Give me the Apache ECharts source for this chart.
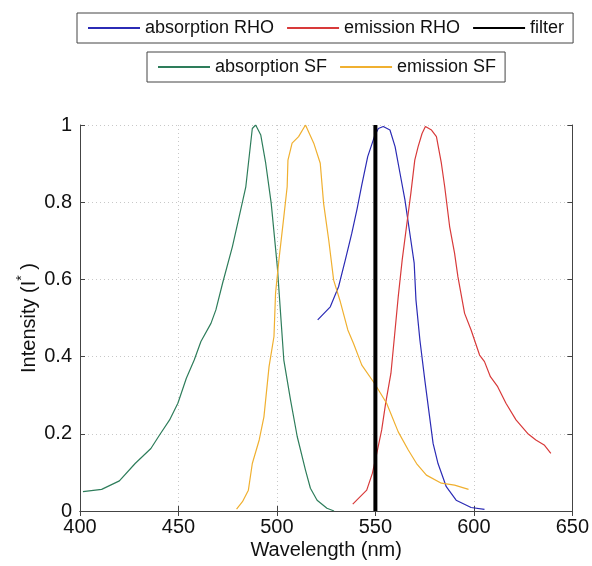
<!DOCTYPE html>
<html>
<head>
<meta charset="utf-8">
<script src="https://cdn.jsdelivr.net/npm/echarts@6/dist/echarts.min.js"></script>
<style>html,body{margin:0;padding:0;background:#fff}#c{width:592px;height:566px}</style>
</head>
<body>
<div id="c"></div>
<script>
var xTicks = [400, 450, 500, 550, 600, 650];
var yTicks = [0, 0.2, 0.4, 0.6, 0.8, 1];

var absorptionRHO = [[520.7,0.495],[527.1,0.529],[531.3,0.581],[534.7,0.650],[538,0.719],[540.6,0.780],[543.1,0.845],[546.1,0.918],[549.5,0.970],[551.5,0.991],[554,0.996],[557.4,0.987],[560,0.944],[562.5,0.875],[565,0.806],[567.5,0.719],[569.7,0.642],[570.6,0.547],[572.6,0.443],[575.1,0.339],[577.3,0.253],[579.3,0.175],[581.8,0.123],[586,0.063],[591,0.028],[598.6,0.009],[605.4,0.004]];

var emissionRHO = [[538.5,0.018],[545.6,0.054],[548.5,0.098],[550.7,0.149],[553.2,0.210],[555.2,0.279],[557.9,0.357],[560,0.469],[561.6,0.555],[563.6,0.650],[565.8,0.737],[568,0.823],[570,0.909],[571.7,0.944],[573.7,0.978],[575.4,0.996],[578.5,0.987],[581,0.970],[583.5,0.901],[585.2,0.840],[587.7,0.737],[590.2,0.668],[591.9,0.607],[595.3,0.512],[598.6,0.469],[602.9,0.404],[605.4,0.387],[608.4,0.348],[612.1,0.322],[616.3,0.279],[621.4,0.236],[627.3,0.201],[631.5,0.184],[635.7,0.171],[639.1,0.149]];

var filterLine = [[550,0],[550,1]];

var absorptionSF = [[401.5,0.050],[411,0.056],[420,0.078],[428,0.123],[436,0.162],[440.4,0.197],[445.5,0.236],[449.7,0.279],[454,0.344],[458,0.391],[461.4,0.439],[466.5,0.486],[469,0.521],[472.4,0.590],[477.4,0.685],[480.8,0.762],[484.2,0.840],[487.5,0.991],[489.2,1.0],[491.8,0.974],[494.3,0.901],[497.1,0.797],[500.2,0.633],[503.5,0.391],[506.9,0.288],[510.3,0.193],[514.5,0.106],[517,0.059],[520.4,0.028],[525.4,0.007],[529,0.0]];

var emissionSF = [[479.5,0.005],[482.5,0.024],[485.5,0.054],[487.5,0.123],[491,0.184],[493.4,0.244],[496,0.374],[498.5,0.452],[499.3,0.564],[501,0.650],[503.5,0.762],[505.2,0.840],[505.6,0.909],[507.7,0.953],[511,0.970],[514.5,1.0],[518.7,0.953],[522,0.901],[523.7,0.797],[526.3,0.702],[528.8,0.598],[532.2,0.542],[536,0.469],[538.9,0.434],[543.1,0.378],[549.5,0.331],[555.7,0.279],[561.6,0.205],[566.7,0.158],[570.9,0.123],[575.9,0.093],[583.5,0.072],[590.2,0.067],[597.3,0.056]];

var FONT = 'Liberation Sans, Arial, sans-serif';
var chart = echarts.init(document.getElementById('c'), null, {renderer: 'canvas'});

function legendBox(names, left, top) {
  return {
    data: names, left: left, top: top, orient: 'horizontal',
    borderColor: '#444', borderWidth: 1, backgroundColor: '#fff',
    padding: [6, 9, 6, 10], itemGap: 12, itemWidth: 52, itemHeight: 14,
    itemStyle: {opacity: 0},
    textStyle: {fontFamily: FONT, fontSize: 18, color: '#111'}
  };
}
function ser(name, data, color, w) {
  return {name: name, type: 'line', data: data, symbol: 'none', smooth: false,
    lineStyle: {color: color, width: w}, itemStyle: {color: color}, z: name === 'filter' ? 5 : 3};
}

chart.setOption({
  animation: false,
  legend: [
    legendBox(['absorption RHO', 'emission RHO', 'filter'], 77, 13),
    legendBox(['absorption SF', 'emission SF'], 147, 52)
  ],
  grid: {left: 80, right: 17, top: 125, bottom: 55, show: false},
  xAxis: [{
    type: 'value', min: 400, max: 650, interval: 50, position: 'bottom',
    name: 'Wavelength (nm)', nameLocation: 'middle', nameGap: 29, nameMoveOverlap: false,
    nameTextStyle: {fontFamily: FONT, fontSize: 20, color: '#111'},
    axisLine: {show: true, lineStyle: {color: '#444'}},
    axisTick: {show: true, inside: true, length: 5, lineStyle: {color: '#444'}},
    axisLabel: {fontFamily: FONT, fontSize: 20, color: '#111', margin: 6},
    splitLine: {show: true, lineStyle: {color: '#c8c8c8', type: [1, 3]}}
  }, {
    type: 'value', min: 400, max: 650, interval: 50, position: 'top',
    axisLine: {show: true, lineStyle: {color: '#444'}},
    axisTick: {show: true, inside: true, length: 5, lineStyle: {color: '#444'}},
    axisLabel: {show: false}, splitLine: {show: false}
  }],
  yAxis: [{
    type: 'value', min: 0, max: 1, interval: 0.2, position: 'left',
    name: 'Intensity (I{s|*} )', nameLocation: 'middle', nameGap: 37, nameMoveOverlap: false,
    nameTextStyle: {fontFamily: FONT, fontSize: 20, color: '#111',
      rich: {s: {fontFamily: FONT, fontSize: 14, color: '#111', padding: [0, 0, 14, 0]}}},
    axisLine: {show: true, lineStyle: {color: '#444'}},
    axisTick: {show: true, inside: true, length: 5, lineStyle: {color: '#444'}},
    axisLabel: {fontFamily: FONT, fontSize: 20, color: '#111', margin: 8,
      formatter: function (v) { return String(Math.round(v * 10) / 10); }},
    splitLine: {show: true, lineStyle: {color: '#c8c8c8', type: [1, 3]}}
  }, {
    type: 'value', min: 0, max: 1, interval: 0.2, position: 'right',
    axisLine: {show: true, lineStyle: {color: '#444'}},
    axisTick: {show: true, inside: true, length: 5, lineStyle: {color: '#444'}},
    axisLabel: {show: false}, splitLine: {show: false}
  }],
  series: [
    ser('absorption RHO', absorptionRHO, '#2b2bb5', 1.2),
    ser('emission RHO', emissionRHO, '#d83a3a', 1.2),
    ser('filter', filterLine, '#000000', 4),
    ser('absorption SF', absorptionSF, '#2e7d5b', 1.2),
    ser('emission SF', emissionSF, '#f0b030', 1.2)
  ]
});
</script>
</body>
</html>
